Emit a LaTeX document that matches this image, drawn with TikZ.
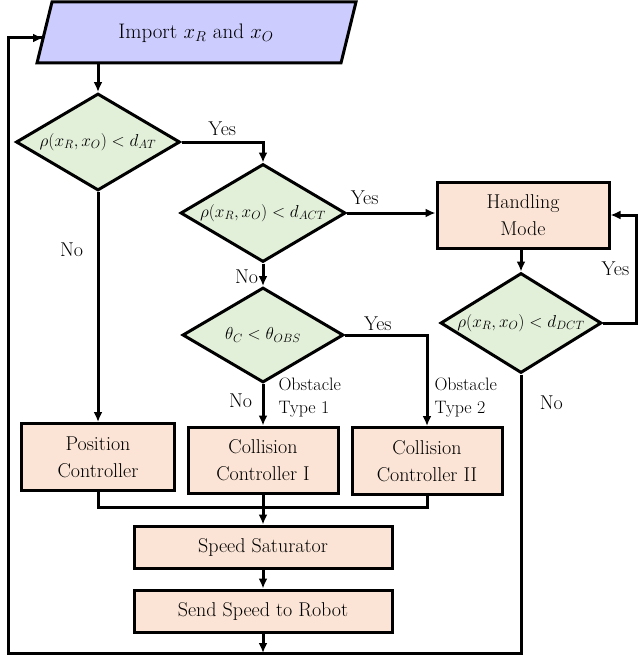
\documentclass[tikz,border=0pt]{standalone}
\usetikzlibrary{shapes.geometric,arrows.meta}
\definecolor{lav}{RGB}{204,204,255}
\definecolor{grn}{RGB}{226,239,217}
\definecolor{sal}{RGB}{251,228,213}
\begin{document}
\begin{tikzpicture}[x=1pt,y=-1pt,line width=3pt,
    box/.style={draw,fill=sal,inner sep=0pt,align=center,font=\fontsize{20}{27}\selectfont},
    dec/.style={draw,diamond,fill=grn,inner sep=-30pt,font=\fontsize{17}{20}\selectfont},
    edge/.style={-{Latex[length=10pt,width=9pt]}},
    lbl/.style={font=\fontsize{20}{24}\selectfont},
    slbl/.style={font=\fontsize{18}{23}\selectfont,align=left,inner sep=0pt}]
\useasboundingbox (0,0) rectangle (640,661);

% input parallelogram
\fill[lav] (52,2) -- (356,2) -- (341,63) -- (37,63) -- cycle;
\draw (52,2) -- (356,2) -- (341,63) -- (37,63) -- cycle;
\node[font=\fontsize{21}{26}\selectfont] (imp) at (196,33) {Import $x_R$ and $x_O$};
\coordinate (impL) at (43,38);
\coordinate (impB) at (98,63);

% decisions
\node[dec,minimum width=164pt,minimum height=97pt] (d1) at (98,142) {$\rho(x_R,x_O)<d_{AT}$};
\node[dec,minimum width=165pt,minimum height=98pt] (d2) at (263,213) {$\rho(x_R,x_O)<d_{ACT}$};
\node[dec,minimum width=161pt,minimum height=95pt] (d3) at (263,335) {$\theta_C<\theta_{OBS}$};
\node[dec,minimum width=161pt,minimum height=100pt] (d4) at (521,323) {$\rho(x_R,x_O)<d_{DCT}$};

% boxes
\node[box,minimum width=172pt,minimum height=66pt] (hm) at (523,215) {Handling\\Mode};
\node[box,minimum width=153pt,minimum height=67pt] (pc) at (98,457) {Position\\Controller};
\node[box,minimum width=150pt,minimum height=66pt] (c1) at (263,460) {Collision\\Controller I};
\node[box,minimum width=150pt,minimum height=67pt] (c2) at (427,461) {Collision\\Controller II};
\node[box,minimum width=258pt,minimum height=42pt] (ss) at (263,547) {Speed Saturator};
\node[box,minimum width=258pt,minimum height=42pt] (sr) at (263,611) {Send Speed to Robot};

\coordinate (m1) at (98,507);
\coordinate (m2) at (427,507);
\coordinate (bot) at (263,653);

% connectors
\draw[edge] (impB) -- (d1.north);
\draw[edge] (d1.east) -| node[pos=0.25,above,lbl,yshift=2pt] {Yes} (d2.north);
\draw[edge] (d1.south) -- node[pos=0.25,left=10pt,lbl] {No} (pc.north);
\draw[edge] (d2.east) -- node[pos=0.2,above,lbl,yshift=4pt] {Yes} (d2.east -| hm.west);
\draw[edge] (d2.south) -- node[left,lbl,xshift=0pt,yshift=-2pt] {No} (d3.north);
\draw[edge] (hm.south -| d4.north) -- (d4.north);
\draw[edge] (d4.east) -- ++(33,0) |- node[pos=0.25,left,lbl,xshift=-2pt] {Yes} (hm.east);
\draw[edge] (d3.east) -| node[pos=0.2,above,lbl,yshift=0pt] {Yes} (c2.north);
\draw[edge] (d3.south) -- node[left,lbl,xshift=-6pt,yshift=4pt] {No} (c1.north);
\node[slbl,anchor=north west] (ot1) at (277,376) {Obstacle\\Type 1};
\node[slbl,anchor=north west] (ot2) at (433,376) {Obstacle\\Type 2};
\draw (pc.south) -- (m1) -- (m2) -- (c2.south);
\draw[edge] (c1.south) -- (ss.north);
\draw[edge] (ss.south) -- (sr.north);
\draw[edge] (sr.south) -- (bot);
\draw (d4.south) -- node[pos=0.1,right=14pt,lbl] {No} (d4.south |- bot) -- (8,653) |- (impL);
\draw[edge] (8,38) -- (impL);
\end{tikzpicture}
\end{document}
